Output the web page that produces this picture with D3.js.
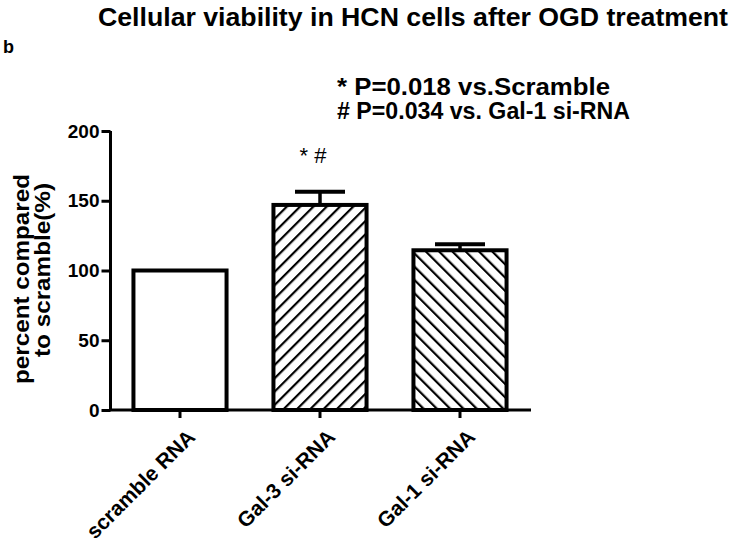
<!DOCTYPE html>
<html>
<head>
<meta charset="utf-8">
<script src="https://cdn.jsdelivr.net/npm/d3@7"></script>
<style>
  body { margin: 0; background: #fff; }
  svg { font-family: "Liberation Sans", Arial, sans-serif; }
</style>
</head>
<body>
<div id="chart"></div>
<script>
// data
const groups = ["scramble RNA", "Gal-3 si-RNA", "Gal-1 si-RNA"];
const means = [100, 147, 114.5];
const sems = [0, 9.5, 4.3];
const fills = ["none", "hatchUp", "hatchDown"];
const yTicks = [0, 50, 100, 150, 200];
const notes = ["* P=0.018 vs.Scramble", "# P=0.034 vs. Gal-1 si-RNA"];
const marks = ["", "* #", ""];

const W = 730, H = 550;

const svg = d3.select("#chart")
    .append("svg")
    .attr("width", W)
    .attr("height", H);

// hatch patterns
const defs = svg.append("defs");
[["hatchUp", 45], ["hatchDown", -45]].forEach(([id, ang]) => {
    const p = defs.append("pattern")
        .attr("id", id)
        .attr("patternUnits", "userSpaceOnUse")
        .attr("width", 9.4)
        .attr("height", 9.4)
        .attr("patternTransform", `rotate(${ang})`);
    p.append("rect").attr("width", 9.4).attr("height", 9.4).attr("fill", "#fff");
    p.append("line")
        .attr("x1", 1).attr("y1", 0)
        .attr("x2", 1).attr("y2", 9.4)
        .attr("stroke", "#000")
        .attr("stroke-width", 2.4);
});

const x = d3.scaleBand()
    .domain(groups)
    .range([110, 530])
    .padding(0);

const y = d3.scaleLinear()
    .domain([0, 200])
    .range([410, 131]);

const barW = x.bandwidth() * 0.665;

// bars
svg.selectAll(".bar")
    .data(groups)
    .enter()
    .append("rect")
    .attr("class", "bar")
    .attr("x", d => x(d) + (x.bandwidth() - barW) / 2)
    .attr("y", (d, i) => y(means[i]))
    .attr("width", barW)
    .attr("height", (d, i) => y(0) - y(means[i]))
    .attr("fill", (d, i) => fills[i] === "none" ? "#fff" : `url(#${fills[i]})`)
    .attr("stroke", "#000")
    .attr("stroke-width", 4);

// error bars (upper only)
groups.forEach((g, i) => {
    if (!sems[i]) return;
    const cx = x(g) + x.bandwidth() / 2;
    svg.append("line")
        .attr("x1", cx).attr("x2", cx)
        .attr("y1", y(means[i])).attr("y2", y(means[i] + sems[i]))
        .attr("stroke", "#000").attr("stroke-width", 3.5);
    svg.append("line")
        .attr("x1", cx - 25).attr("x2", cx + 25)
        .attr("y1", y(means[i] + sems[i])).attr("y2", y(means[i] + sems[i]))
        .attr("stroke", "#000").attr("stroke-width", 4);
});

// significance marks
svg.selectAll(".mark")
    .data(groups)
    .enter()
    .append("text")
    .attr("class", "mark")
    .attr("x", d => x(d) + x.bandwidth() / 2 - 7)
    .attr("y", 163)
    .attr("text-anchor", "middle")
    .style("font-size", "22px")
    .text((d, i) => marks[i]);

// y axis
const yAxis = svg.append("g")
    .attr("transform", "translate(110.5,0)")
    .call(d3.axisLeft(y).tickValues(yTicks).tickSize(9).tickPadding(2));
yAxis.selectAll("path, line").attr("stroke", "#000").attr("stroke-width", 3);
yAxis.select(".domain").attr("d", `M0,${y(200)}V${y(0)}`);
yAxis.selectAll("text")
    .style("font-size", "19px")
    .style("font-weight", "bold")
    .attr("fill", "#000");

// x axis
const xAxis = svg.append("g")
    .attr("transform", "translate(0,410)")
    .call(d3.axisBottom(x).tickSize(8).tickFormat(""));
xAxis.selectAll("path, line").attr("stroke", "#000").attr("stroke-width", 3);
xAxis.select(".domain").attr("d", `M109,0H531`);

groups.forEach(g => {
    svg.append("text")
        .attr("transform", `translate(${x(g) + x.bandwidth() / 2 + 6},428) rotate(-45)`)
        .attr("text-anchor", "end")
        .attr("dy", "0.7em")
        .style("font-size", "21px")
        .style("font-weight", "bold")
        .text(g);
});

// y label
svg.append("text")
    .attr("transform", "translate(29,279) rotate(-90)")
    .attr("text-anchor", "middle")
    .attr("textLength", 210)
    .attr("lengthAdjust", "spacingAndGlyphs")
    .style("font-size", "22px")
    .style("font-weight", "bold")
    .text("percent compared");
svg.append("text")
    .attr("transform", "translate(49.5,270) rotate(-90)")
    .attr("text-anchor", "middle")
    .attr("textLength", 174)
    .attr("lengthAdjust", "spacingAndGlyphs")
    .style("font-size", "22px")
    .style("font-weight", "bold")
    .text("to scramble(%)");

// title, panel letter, notes
svg.append("text")
    .attr("x", 98).attr("y", 26)
    .attr("textLength", 630)
    .attr("lengthAdjust", "spacingAndGlyphs")
    .style("font-size", "25px")
    .style("font-weight", "bold")
    .text("Cellular viability in HCN cells after OGD treatment");

svg.append("text")
    .attr("x", 3).attr("y", 53)
    .style("font-size", "18px")
    .style("font-weight", "bold")
    .text("b");

const noteLen = [273, 293];
notes.forEach((t, i) => {
    svg.append("text")
        .attr("x", 337).attr("y", 95 + i * 23.5)
        .attr("textLength", noteLen[i])
        .attr("lengthAdjust", "spacingAndGlyphs")
        .style("font-size", "23px")
        .style("font-weight", "bold")
        .text(t);
});
</script>
</body>
</html>
